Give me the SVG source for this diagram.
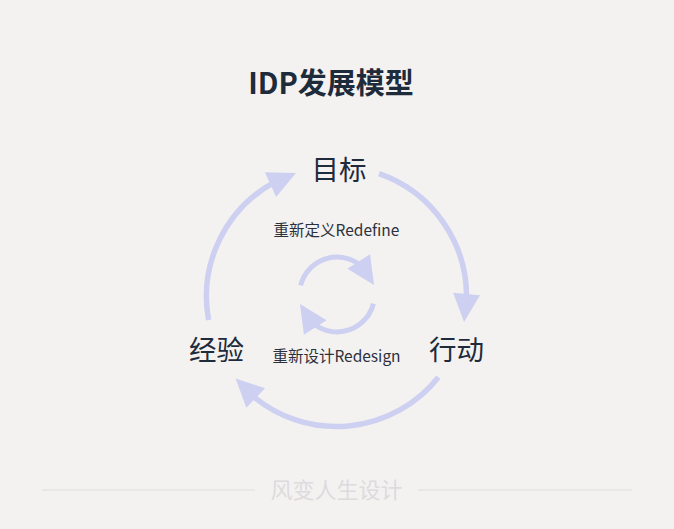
<svg xmlns="http://www.w3.org/2000/svg" xmlns:xlink="http://www.w3.org/1999/xlink" width="674" height="529" viewBox="0 0 674 529">
  <style>
    .t { font-family: "Noto Sans CJK SC", "Noto Sans", sans-serif; text-anchor: middle; }
    .title { font-size: 29px; font-weight: 700; fill: #1e2b3b; }
    .node { font-size: 27.5px; fill: #1e2b3b; }
    .sub { font-size: 15.5px; fill: #2b313c; }
    .foot { font-size: 22px; fill: #dcdbdf; }
    .arc { fill: none; stroke: #cdd0f1; stroke-width: 5.5; }
    .arc-s { fill: none; stroke: #cdd0f1; stroke-width: 5; }
    .head { fill: #cdd0f1; }
    .rule { stroke: #dddcdf; stroke-width: 1.2; }
  </style>
  <defs>
    <polygon id="ah" class="head" points="0,0 -28,-13.5 -28,13.5"/>
  </defs>
  <rect width="674" height="529" fill="#f4f2f0"/>

  <text class="t title" x="331" y="94">IDP发展模型</text>

  <g id="connectors">
    <path class="arc" d="M208.6,320 A130,130 0 0 1 275.1,181.9"/>
    <use xlink:href="#ah" href="#ah" transform="translate(296,173) rotate(-24.5)"/>
    <path class="arc" d="M379,173.7 A130,130 0 0 1 466.5,299.5"/>
    <use xlink:href="#ah" href="#ah" transform="translate(464,322) rotate(95.3)"/>
    <path class="arc" d="M438.4,377.2 A130,130 0 0 1 251.4,394.8"/>
    <use xlink:href="#ah" href="#ah" transform="translate(235.6,378.5) rotate(224)"/>
    <path class="arc-s" d="M300.6,285.4 A37.5,37.5 0 0 1 359,264.2"/>
    <use xlink:href="#ah" href="#ah" transform="translate(374,285) rotate(57)"/>
    <path class="arc-s" d="M373.4,303.6 A37.5,37.5 0 0 1 315,324.8"/>
    <use xlink:href="#ah" href="#ah" transform="translate(300,304) rotate(237)"/>
  </g>

  <g id="node-goal"><text class="t node" x="339" y="180">目标</text></g>
  <g id="node-action"><text class="t node" x="456.5" y="360">行动</text></g>
  <g id="node-experience"><text class="t node" x="216.5" y="360">经验</text></g>
  <g id="label-redefine"><text class="t sub" x="336.5" y="236">重新定义Redefine</text></g>
  <g id="label-redesign"><text class="t sub" x="336.5" y="362">重新设计Redesign</text></g>

  <g id="footer">
    <line class="rule" x1="42" y1="490" x2="255" y2="490"/>
    <line class="rule" x1="418" y1="490" x2="632" y2="490"/>
    <text class="t foot" x="336.5" y="498">风变人生设计</text>
  </g>
</svg>
